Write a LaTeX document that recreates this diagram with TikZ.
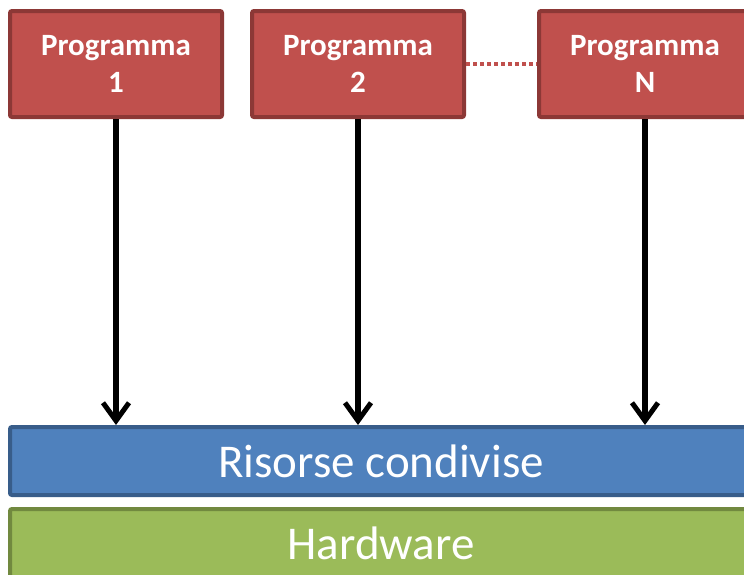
\documentclass[tikz,border=0pt]{standalone}
\usepackage{fontspec}
\setmainfont{Carlito}
\usetikzlibrary{arrows.meta}
\definecolor{progfill}{HTML}{C0504D}
\definecolor{progline}{HTML}{8C3836}
\definecolor{resfill}{HTML}{4F81BD}
\definecolor{resline}{HTML}{385D8A}
\definecolor{hwfill}{HTML}{9BBB59}
\definecolor{hwline}{HTML}{71893F}
\tikzset{
  progbox/.style={draw=progline, fill=progfill, line width=4pt, rounded corners=2pt,
    minimum width=212pt, minimum height=106pt, inner sep=0pt, align=center,
    text=white, font=\bfseries\fontsize{31}{37}\selectfont},
  barbox/.style={line width=4pt, rounded corners=2pt, minimum width=742pt,
    minimum height=68pt, inner sep=0pt, text=white, font=\fontsize{47}{52}\selectfont},
  flow/.style={line width=6pt, -{Straight Barb[length=18pt,width=26pt,line width=5pt]}},
}
\begin{document}
\begin{tikzpicture}[x=1pt,y=-1pt]
\useasboundingbox (0,0) rectangle (744,574);
\clip (0,0) rectangle (744,574);
\node[progbox] (p1) at (116,64) {Programma\\1};
\node[progbox] (p2) at (358,64) {Programma\\2};
\node[progbox] (pn) at (645,64) {Programma\\N};
\node[barbox, draw=resline, fill=resfill] (res) at (381,461) {Risorse condivise};
\node[barbox, draw=hwline, fill=hwfill] (hw) at (381,543) {Hardware};
\draw[progfill, line width=3.5pt, dash pattern=on 4pt off 3pt] (p2.east) -- (pn.west);
\draw[flow] (p1.south) -- (p1.south |- res.north);
\draw[flow] (p2.south) -- (p2.south |- res.north);
\draw[flow] (pn.south) -- (pn.south |- res.north);
\end{tikzpicture}
\end{document}
